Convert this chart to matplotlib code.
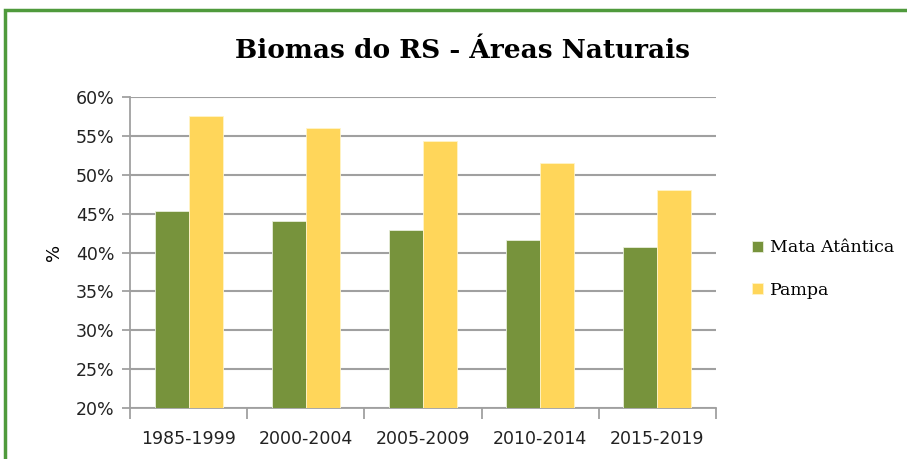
import numpy as np
import matplotlib
matplotlib.use('Agg')
import matplotlib.pyplot as plt
from matplotlib.patches import Rectangle
from matplotlib.ticker import FuncFormatter

periodos = ['1985-1999', '2000-2004', '2005-2009', '2010-2014', '2015-2019']
mata_atlantica = [45.3, 44.0, 42.9, 41.6, 40.7]
pampa = [57.5, 56.0, 54.4, 51.5, 48.0]
series = ['Mata Atântica', 'Pampa']

verde = '#77933C'
amarelo = '#FFD65A'
cinza = '#A0A0A0'

fig = plt.figure(figsize=(9.07, 4.59), dpi=100)
ax = fig.add_axes([130 / 907, 1 - 408 / 459, (716 - 130) / 907, (408 - 97) / 459])

x = np.arange(len(periodos))
w = 0.29
ax.bar(x - w / 2, mata_atlantica, w, color=verde, edgecolor='#E8EEDA', linewidth=0.6,
       label=series[0], zorder=3)
ax.bar(x + w / 2, pampa, w, color=amarelo, edgecolor='#FFF4C8', linewidth=0.6,
       label=series[1], zorder=3)

ax.set_ylim(20, 60)
ax.set_xlim(-0.5, len(periodos) - 0.5)
ax.set_yticks(np.arange(20, 61, 5))
ax.yaxis.set_major_formatter(FuncFormatter(lambda v, p: f'{v:.0f}%'))
ax.set_xticks(x)
ax.set_xticklabels(periodos)
ax.set_xticks(np.arange(-0.5, len(periodos), 1), minor=True)
ax.tick_params(axis='x', which='major', length=0, pad=16, labelsize=12.5)
ax.tick_params(axis='x', which='minor', length=8, color=cinza, width=1.3)
ax.tick_params(axis='y', length=6, color=cinza, width=1.3, labelsize=12.5, pad=5)
for lab in ax.get_xticklabels() + ax.get_yticklabels():
    lab.set_family('DejaVu Sans')
    lab.set_color('#222222')

ax.grid(axis='y', color=cinza, linewidth=1.5, zorder=0)
for s in ['top', 'right']:
    ax.spines[s].set_visible(False)
for s in ['left', 'bottom']:
    ax.spines[s].set_color(cinza)
    ax.spines[s].set_linewidth(1.3)

ax.set_ylabel('%', fontsize=13, family='DejaVu Sans', labelpad=9)

fig.text(462 / 907, 1 - 50 / 459, 'Biomas do RS - Áreas Naturais', ha='center', va='center',
         fontsize=19, fontweight='bold', family='DejaVu Serif')

leg = fig.legend(loc='center left', bbox_to_anchor=(736 / 907, 1 - 269 / 459), frameon=False,
                 handlelength=0.65, handleheight=0.65, handletextpad=0.4, labelspacing=1.45,
                 prop={'family': 'DejaVu Serif', 'size': 12.5})

fig.patches.append(Rectangle((5 / 907, -0.1), 1.2, 1 - 10 / 459 + 0.1, transform=fig.transFigure,
                             fill=False, edgecolor='#4F9A3C', linewidth=2.5))

fig.savefig('out.png', dpi=100)
